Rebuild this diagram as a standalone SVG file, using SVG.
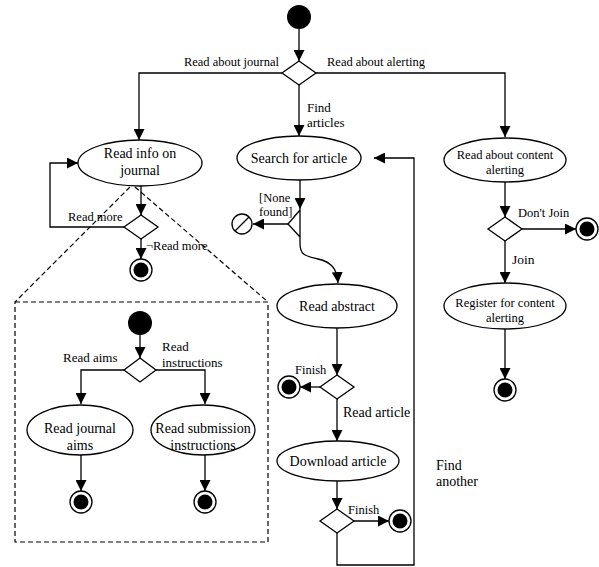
<svg xmlns="http://www.w3.org/2000/svg" width="599" height="567" viewBox="0 0 599 567">
<style>
  .bg{fill:#fff}
  .act{fill:#fff;stroke:#000;stroke-width:1.3}
  .dec{fill:#fff;stroke:#000;stroke-width:1.3}
  .ln{fill:none;stroke:#000;stroke-width:1.3}
  .arr{fill:none;stroke:#000;stroke-width:1.3;marker-end:url(#ah)}
  .dash{fill:none;stroke:#000;stroke-width:1.2;stroke-dasharray:5,3}
  .ini{fill:#000}
  .fo{fill:#fff;stroke:#000;stroke-width:1.3}
  .fi{fill:#000}
  text{font-family:"Liberation Serif","Times New Roman",serif;fill:#000}
  .t{font-size:14px;text-anchor:middle}
  .ts{font-size:12.5px;text-anchor:middle}
  .l{font-size:12.5px}
  .lm{font-size:14px}
</style>
<defs>
  <marker id="ah" markerUnits="userSpaceOnUse" markerWidth="12" markerHeight="11" refX="11" refY="5.5" orient="auto">
    <path d="M0,0 L11,5.5 L0,11 z" fill="#000"/>
  </marker>
</defs>
<rect class="bg" x="0" y="0" width="599" height="567"/>

<g id="connectors">
  <path class="arr" d="M299,29 V61"/>
  <path class="arr" d="M282,73 H139 V140"/>
  <path class="arr" d="M299,85 V136"/>
  <path class="arr" d="M316,73 H505 V137"/>
  <path class="arr" d="M141,186 V215"/>
  <path class="arr" d="M124,227 H50 V163 H78"/>
  <path class="arr" d="M141,239 V259"/>
  <path class="dash" d="M130,187 L15,302"/>
  <path class="dash" d="M135,187 L268,302"/>
  <path class="arr" d="M140,335 V358"/>
  <path class="arr" d="M124,370 H81 V404"/>
  <path class="arr" d="M156,370 H205 V404"/>
  <path class="arr" d="M81,455 V491"/>
  <path class="arr" d="M205,455 V491"/>
  <path class="arr" d="M300,180 V209"/>
  <path class="ln" d="M300,209 V243 M300,210 L288,224 L300,237"/>
  <path class="arr" d="M288,224 H253"/>
  <path class="arr" d="M300,243 C300,256 306,256 318,259 C331,262 337,268 338,283"/>
  <path class="arr" d="M337,328 V375"/>
  <path class="arr" d="M320,387 H300"/>
  <path class="arr" d="M337,399 V441"/>
  <path class="arr" d="M337,481 V509"/>
  <path class="arr" d="M354,521 H389"/>
  <path class="arr" d="M337,533 V565 H414 V158 H374"/>
  <path class="arr" d="M505,182 V217"/>
  <path class="arr" d="M522,229 H576"/>
  <path class="arr" d="M505,241 V283"/>
  <path class="arr" d="M505,329 V379"/>
</g>

<g id="labels">
  <text class="l" x="279" y="66" text-anchor="end">Read about journal</text>
  <text class="l" x="327" y="66">Read about alerting</text>
  <text class="l" x="307" y="112" style="font-size:13px">Find</text>
  <text class="l" x="307" y="127" style="font-size:13px">articles</text>
  <text class="l" x="68" y="221">Read more</text>
  <text class="l" x="146" y="250">¬Read more</text>
  <text class="l" x="259" y="202">[None</text>
  <text class="l" x="259" y="216">found]</text>
  <text class="l" x="518" y="217">Don't Join</text>
  <text class="l" x="512" y="264" style="font-size:13.5px">Join</text>
  <text class="l" x="295" y="374">Finish</text>
  <text class="lm" x="343" y="417">Read article</text>
  <text class="l" x="348" y="514">Finish</text>
  <text class="lm" x="436" y="470">Find</text>
  <text class="lm" x="436" y="486">another</text>
  <text class="l" x="63" y="362" style="font-size:13px">Read aims</text>
  <text class="l" x="162" y="351" style="font-size:13px">Read</text>
  <text class="l" x="162" y="367" style="font-size:13px">instructions</text>
</g>

<g id="start"><circle class="ini" cx="299" cy="17" r="12"/></g>
<g id="d-main"><polygon class="dec" points="299,61 316,73 299,85 282,73"/></g>

<g id="read-info">
  <ellipse class="act" cx="140" cy="163" rx="62" ry="23"/>
  <text class="t" x="140" y="158">Read info on</text>
  <text class="t" x="140" y="175">journal</text>
</g>
<g id="d-more"><polygon class="dec" points="141,215 158,227 141,239 124,227"/></g>
<g id="end-info"><circle class="fo" cx="141" cy="270" r="11"/><circle class="fi" cx="141" cy="270" r="7.5"/></g>

<g id="subactivity">
  <rect class="dash" x="15" y="302" width="253" height="240"/>
</g>
<g id="sub-start"><circle class="ini" cx="140" cy="323" r="12"/></g>
<g id="d-sub"><polygon class="dec" points="140,358 156,370 140,382 124,370"/></g>
<g id="read-aims">
  <ellipse class="act" cx="80" cy="430" rx="53" ry="25"/>
  <text class="t" x="80" y="433">Read journal</text>
  <text class="t" x="80" y="450">aims</text>
</g>
<g id="read-sub">
  <ellipse class="act" cx="203" cy="430" rx="52" ry="25"/>
  <text class="t" x="203" y="433">Read submission</text>
  <text class="t" x="203" y="450">instructions</text>
</g>
<g id="end-aims"><circle class="fo" cx="81" cy="502" r="11"/><circle class="fi" cx="81" cy="502" r="7.5"/></g>
<g id="end-sub"><circle class="fo" cx="205" cy="502" r="11"/><circle class="fi" cx="205" cy="502" r="7.5"/></g>

<g id="search">
  <ellipse class="act" cx="299" cy="158" rx="62" ry="22"/>
  <text class="t" x="299" y="163">Search for article</text>
</g>
<g id="flow-final">
  <circle class="fo" cx="242" cy="224" r="10"/>
  <path class="ln" d="M235,231 L249,217"/>
</g>
<g id="read-abstract">
  <ellipse class="act" cx="337" cy="306" rx="60" ry="22"/>
  <text class="t" x="337" y="311">Read abstract</text>
</g>
<g id="d-abstract"><polygon class="dec" points="337,375 354,387 337,399 320,387"/></g>
<g id="end-abstract"><circle class="fo" cx="289" cy="387" r="11"/><circle class="fi" cx="289" cy="387" r="7.5"/></g>
<g id="download">
  <ellipse class="act" cx="338" cy="461" rx="61" ry="20"/>
  <text class="t" x="338" y="466">Download article</text>
</g>
<g id="d-download"><polygon class="dec" points="337,509 354,521 337,533 320,521"/></g>
<g id="end-download"><circle class="fo" cx="400" cy="521" r="11"/><circle class="fi" cx="400" cy="521" r="7.5"/></g>

<g id="read-alerting">
  <ellipse class="act" cx="505" cy="160" rx="61" ry="22"/>
  <text class="ts" x="505" y="159">Read about content</text>
  <text class="ts" x="505" y="174">alerting</text>
</g>
<g id="d-join"><polygon class="dec" points="505,217 522,229 505,241 488,229"/></g>
<g id="end-nojoin"><circle class="fo" cx="587" cy="229" r="11"/><circle class="fi" cx="587" cy="229" r="7.5"/></g>
<g id="register">
  <ellipse class="act" cx="505" cy="306" rx="61" ry="23"/>
  <text class="ts" x="505" y="307">Register for content</text>
  <text class="ts" x="505" y="322">alerting</text>
</g>
<g id="end-register"><circle class="fo" cx="505" cy="390" r="11"/><circle class="fi" cx="505" cy="390" r="7.5"/></g>
</svg>
